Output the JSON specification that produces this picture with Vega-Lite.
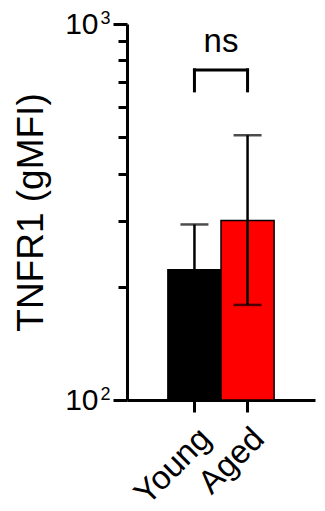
{
  "$schema": "https://vega.github.io/schema/vega-lite/v6.json",
  "width": 188,
  "height": 376,
  "autosize": {"type": "none"},
  "padding": {"left": 127, "top": 24, "right": 10, "bottom": 111},
  "background": "white",
  "config": {
    "view": {"stroke": null},
    "font": "Liberation Sans",
    "axis": {"grid": false, "domainColor": "black", "tickColor": "black", "labelColor": "black", "titleColor": "black", "labelFont": "Liberation Sans", "titleFont": "Liberation Sans"}
  },
  "resolve": {"axis": {"y": "independent"}},
  "datasets": {
    "bars": [
      {"group": "Young", "mean": 222, "lower": 165, "upper": 293, "base": 100},
      {"group": "Aged", "mean": 300, "lower": 179, "upper": 506, "base": 100}
    ],
    "bracketH": [
      {"from": "Young", "to": "Aged", "y": 755}
    ],
    "bracketV": [
      {"group": "Young", "ybot": 664, "ytop": 755},
      {"group": "Aged", "ybot": 664, "ytop": 755}
    ],
    "label": [
      {"group": "Young", "y": 841, "text": "ns"}
    ]
  },
  "layer": [
    {
      "data": {"name": "bars"},
      "mark": {"type": "bar", "stroke": "black", "strokeWidth": 1.5},
      "encoding": {
        "x": {
          "field": "group", "type": "nominal", "sort": ["Young", "Aged"],
          "scale": {"domain": ["Young", "Aged"], "paddingInner": 0, "paddingOuter": 0.77},
          "axis": {"title": null, "labelAngle": -45, "labelFontSize": 33, "labelFontWeight": "normal", "domainWidth": 3, "tickWidth": 3, "tickSize": 12, "labelPadding": 10}
        },
        "y": {
          "field": "mean", "type": "quantitative", "stack": null,
          "scale": {"type": "log", "domain": [100, 1000], "nice": false},
          "axis": {
            "orient": "left",
            "title": "TNFR1  (gMFI)", "titleFontSize": 37, "titleFontWeight": "normal",
            "titleX": -85, "titleBaseline": "alphabetic",
            "values": [100, 200, 300, 400, 500, 600, 700, 800, 900, 1000],
            "labelExpr": "datum.value == 1000 || datum.value == 100 ? '10' : ''",
            "labelFontSize": 30, "labelPadding": 15, "labelBaseline": "middle",
            "domainWidth": 3, "tickWidth": 3,
            "tickSize": {"condition": {"test": "datum.value == 100 || datum.value == 1000", "value": 14}, "value": 9}
          }
        },
        "y2": {"field": "base"},
        "color": {"field": "group", "type": "nominal", "scale": {"domain": ["Young", "Aged"], "range": ["#000000", "#ff0000"]}, "legend": null}
      }
    },
    {
      "data": {"name": "bars"},
      "mark": {"type": "rule", "color": "black", "strokeWidth": 2.5},
      "encoding": {
        "x": {"field": "group", "type": "nominal"},
        "y": {
          "field": "lower", "type": "quantitative",
          "axis": {
            "orient": "left", "title": null, "domain": false, "ticks": false,
            "values": [100, 1000],
            "labelExpr": "datum.value == 1000 ? '3' : '2'",
            "labelFontSize": 18, "labelPadding": 17, "labelBaseline": "middle", "labelOffset": -6
          }
        },
        "y2": {"field": "upper"}
      }
    },
    {
      "data": {"name": "bars"},
      "mark": {"type": "tick", "color": "black", "orient": "horizontal", "size": 28, "thickness": 2.5},
      "encoding": {
        "x": {"field": "group", "type": "nominal"},
        "y": {"field": "upper", "type": "quantitative", "axis": null}
      }
    },
    {
      "data": {"name": "bars"},
      "mark": {"type": "tick", "color": "black", "orient": "horizontal", "size": 28, "thickness": 2.5},
      "encoding": {
        "x": {"field": "group", "type": "nominal"},
        "y": {"field": "lower", "type": "quantitative", "axis": null}
      }
    },
    {
      "data": {"name": "bracketH"},
      "mark": {"type": "rule", "color": "black", "strokeWidth": 3, "strokeCap": "square"},
      "encoding": {
        "x": {"field": "from", "type": "nominal"},
        "x2": {"field": "to"},
        "y": {"field": "y", "type": "quantitative", "axis": null}
      }
    },
    {
      "data": {"name": "bracketV"},
      "mark": {"type": "rule", "color": "black", "strokeWidth": 3, "strokeCap": "square"},
      "encoding": {
        "x": {"field": "group", "type": "nominal"},
        "y": {"field": "ybot", "type": "quantitative", "axis": null},
        "y2": {"field": "ytop"}
      }
    },
    {
      "data": {"name": "label"},
      "mark": {"type": "text", "fontSize": 33, "baseline": "alphabetic", "align": "center", "color": "black", "font": "Liberation Sans"},
      "encoding": {
        "x": {"field": "group", "type": "nominal", "bandPosition": 1},
        "y": {"field": "y", "type": "quantitative", "axis": null},
        "text": {"field": "text"}
      }
    }
  ]
}
